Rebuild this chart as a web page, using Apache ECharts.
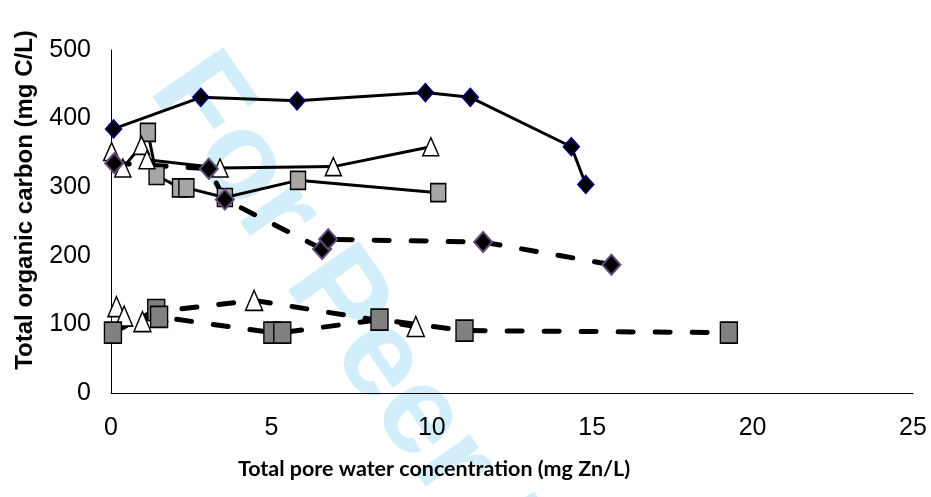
<!DOCTYPE html>
<html>
<head>
<meta charset="utf-8">
<script src="https://cdn.jsdelivr.net/npm/echarts@6/dist/echarts.min.js"></script>
<style>html,body{margin:0;padding:0;background:#fff;}#chart{width:931px;height:497px;}</style>
</head>
<body>
<div id="chart"></div>
<script>
// Solid line, navy-edged diamonds
const aX = [0.08, 2.8, 5.8, 9.8, 11.2, 14.35, 14.8];
const aY = [385, 431, 426, 438, 431, 359, 304];
// Dashed line, purple-edged diamonds
const bX = [0.1, 3.05, 3.55, 6.58, 6.77, 11.6, 15.6];
const bY = [335, 327, 282, 210, 224, 220, 187];
// Solid line, white triangles
const cX = [0.02, 0.37, 0.95, 1.12, 3.4, 6.93, 9.97];
const cY = [352, 328, 361, 340, 328, 330, 359];
// Solid line, light grey squares
const dX = [1.15, 1.42, 2.15, 2.35, 3.55, 5.83, 10.2];
const dY = [380, 317, 299, 299, 285, 310, 292];
// Dashed line, white triangles
const eX = [0.17, 0.41, 0.98, 1.5, 4.46, 9.5];
const eY = [126, 112, 104, 119, 135, 97];
// Dashed line, dark grey squares
const fX = [0.06, 1.41, 1.5, 5.03, 5.34, 8.37, 11.02, 19.26];
const fY = [88, 121, 111, 88, 88, 107, 91, 88];

const xTicks = [0, 5, 10, 15, 20, 25];
const yTicks = [0, 100, 200, 300, 400, 500];

const pairs = (xs, ys) => xs.map((x, i) => [x, ys[i]]);
const DASH = [15, 22];
const TICK_FONT = 'Liberation Sans';

const chart = echarts.init(document.getElementById('chart'));
chart.setOption({
  animation: false,
  backgroundColor: '#fff',
  grid: { left: 111, right: 18, top: 50, bottom: 104, containLabel: false },
  xAxis: {
    type: 'value', min: xTicks[0], max: xTicks[xTicks.length - 1], interval: 5,
    axisLine: { show: true, lineStyle: { color: '#000', width: 1 } },
    axisTick: { show: false }, splitLine: { show: false },
    axisLabel: { color: '#000', fontFamily: TICK_FONT, fontSize: 25, margin: 23 }
  },
  yAxis: {
    type: 'value', min: yTicks[0], max: yTicks[yTicks.length - 1], interval: 100,
    axisLine: { show: true, lineStyle: { color: '#000', width: 1 } },
    axisTick: { show: false }, splitLine: { show: false },
    axisLabel: { color: '#000', fontFamily: TICK_FONT, fontSize: 25, margin: 20 }
  },
  graphic: [
    { type: 'text', z: -10, silent: true, x: 176, y: 70, rotation: -55 * Math.PI / 180,
      style: { text: 'For Peer Review', fill: '#d3eefb', font: 'bold 125px "Liberation Sans", Arial', textAlign: 'left', textVerticalAlign: 'middle' } },
    { type: 'text', x: 25, y: 200, rotation: Math.PI / 2,
      style: { text: 'Total organic carbon (mg C/L)', fill: '#000', font: 'bold 24px "Liberation Sans", Arial', textAlign: 'center', textVerticalAlign: 'middle' } },
    { type: 'text', x: 434, y: 469,
      style: { text: 'Total pore water concentration (mg Zn/L)', fill: '#000', font: 'bold 21.5px Lato, "Open Sans", sans-serif', textAlign: 'center', textVerticalAlign: 'middle' } }
  ],
  series: [
    { type: 'line', data: pairs(eX, eY), symbol: 'triangle', symbolSize: [17, 20],
      lineStyle: { color: '#000', width: 5, type: DASH, cap: 'round' },
      itemStyle: { color: '#fff', borderColor: '#000', borderWidth: 1.5 } },
    { type: 'line', data: pairs(fX, fY), symbol: 'rect', symbolSize: [17, 21],
      lineStyle: { color: '#000', width: 5, type: DASH, cap: 'round' },
      itemStyle: { color: '#808080', borderColor: '#000', borderWidth: 1.5 } },
    { type: 'line', data: pairs(dX, dY), symbol: 'rect', symbolSize: [15, 18],
      lineStyle: { color: '#000', width: 3 },
      itemStyle: { color: '#a6a6a6', borderColor: '#000', borderWidth: 1.5 } },
    { type: 'line', data: pairs(cX, cY), symbol: 'triangle', symbolSize: [16, 18],
      lineStyle: { color: '#000', width: 3 },
      itemStyle: { color: '#fff', borderColor: '#000', borderWidth: 1.5 } },
    { type: 'line', data: pairs(bX, bY), symbol: 'diamond', symbolSize: [18, 20],
      lineStyle: { color: '#000', width: 5, type: DASH, cap: 'round' },
      itemStyle: { color: '#000', borderColor: '#604a7b', borderWidth: 2 } },
    { type: 'line', data: pairs(aX, aY), symbol: 'diamond', symbolSize: [16, 18],
      lineStyle: { color: '#000', width: 3 },
      itemStyle: { color: '#000', borderColor: '#000080', borderWidth: 1.5 } }
  ]
});
</script>
</body>
</html>
